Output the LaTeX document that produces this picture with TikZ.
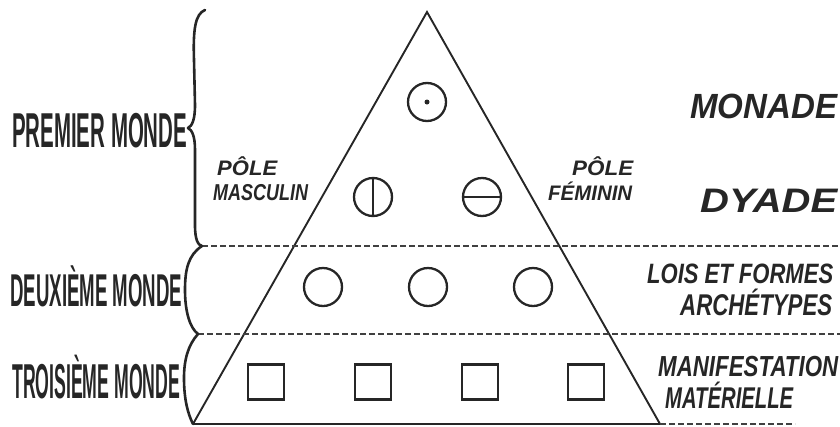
\documentclass[tikz,border=0pt]{standalone}
\usepackage{fontspec}
\setmainfont{Liberation Sans}
\usepackage{graphicx}
\newcommand\fitlab[3]{\resizebox{#1pt}{\height}{\fontsize{#2pt}{#2pt}\selectfont #3}}
\begin{document}
\begin{tikzpicture}[x=1pt,y=-1pt,
  ink/.style={draw=black!85, line width=1.9pt},
  symink/.style={draw=black!85, line width=2.3pt},
  sepline/.style={draw=black!75, line width=1.1pt, dash pattern=on 6pt off 3pt},
  brace/.style={draw=black!85, line width=2.6pt, line cap=round, line join=round},
  big/.style={inner sep=0, anchor=base west, text=black!85, font=\bfseries},
  ital/.style={inner sep=0, anchor=base west, text=black!85, font=\bfseries\itshape},
  sym/.style={circle, symink, minimum size=38pt, inner sep=0},
  sq/.style={rectangle, symink, minimum width=36pt, minimum height=35pt, inner sep=0}]
\useasboundingbox (0,0) rectangle (840,426);
% triangle
\coordinate (apex) at (427,12);
\coordinate (bl) at (193,424);
\coordinate (br) at (660,424);
\coordinate (bend) at (795,424);
\draw[ink, line join=miter] (bl) -- (apex) -- (br);
\draw[ink] (bl) -- (br);
\draw[sepline] (br) -- (bend);
% separators
\coordinate (s1l) at (202,246); \coordinate (s1r) at (840,246);
\coordinate (s2l) at (198,334); \coordinate (s2r) at (840,334);
\draw[sepline] (s1l) -- (s1r);
\draw[sepline] (s2l) -- (s2r);
% braces
\coordinate (b1t) at (205,10);
\coordinate (b1m) at (188,128);
\draw[brace] (b1t) .. controls (195,14) and (193,30) .. (194,60) -- (195,105)
  .. controls (195,120) and (192,126) .. (b1m)
  .. controls (192,130) and (195,136) .. (195,150) -- (195,225)
  .. controls (195,240) and (198,245) .. (s1l);
\draw[brace] (s1l) .. controls (188,255) and (185,270) .. (185,290)
  .. controls (185,312) and (190,328) .. (s2l);
\draw[brace] (s2l) .. controls (188,345) and (184,360) .. (184,378)
  .. controls (184,400) and (188,414) .. (bl);
% symbols
\node[sym] (mon) at (427,102) {};
\node[circle, fill=black!85, minimum size=5pt, inner sep=0] (dot) at (mon.center) {};
\node[sym] (dl) at (373,197) {};
\draw[symink] (dl.north) -- (dl.south);
\node[sym] (dr) at (482,197) {};
\draw[symink] (dr.west) -- (dr.east);
\node[sym] (c1) at (323,287) {};
\node[sym] (c2) at (428,287) {};
\node[sym] (c3) at (533,287) {};
\node[sq] (q1) at (266,382) {};
\node[sq] (q2) at (373,382) {};
\node[sq] (q3) at (480,382) {};
\node[sq] (q4) at (586,382) {};
% labels
\node[big] (pm) at (12,147) {\fitlab{175}{49}{PREMIER MONDE}};
\node[big] (dm) at (10,306) {\fitlab{172}{46}{DEUXIÈME MONDE}};
\node[big] (tm) at (12,398) {\fitlab{168}{49}{TROISIÈME MONDE}};
\node[ital] (mo) at (690,118) {\fitlab{147}{35}{MONADE}};
\node[ital] (dy) at (700,212) {\fitlab{137}{34}{DYADE}};
\node[ital] (lf) at (647,283) {\fitlab{186}{28}{LOIS ET FORMES}};
\node[ital] (ar) at (680,315) {\fitlab{152}{30}{ARCHÉTYPES}};
\node[ital] (mf) at (658,376) {\fitlab{180}{29}{MANIFESTATION}};
\node[ital] (mt) at (665,408) {\fitlab{128}{30}{MATÉRIELLE}};
\node[ital] (p1) at (217,175) {\fitlab{60}{21}{PÔLE}};
\node[ital] (ms) at (213,200) {\fitlab{95}{23}{MASCULIN}};
\node[ital] (p2) at (572,175) {\fitlab{61}{21}{PÔLE}};
\node[ital] (fe) at (548,200) {\fitlab{84}{21}{FÉMININ}};
\end{tikzpicture}
\end{document}
